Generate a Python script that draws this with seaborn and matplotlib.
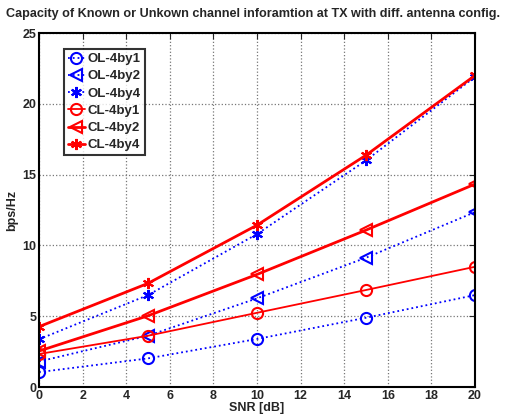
import matplotlib
matplotlib.use("Agg")
import matplotlib.pyplot as plt
import seaborn as sns
import pandas as pd

snr = [0, 5, 10, 15, 20]
ol_4by1 = [1.05, 2.02, 3.39, 4.89, 6.49]
ol_4by2 = [1.8, 3.62, 6.26, 9.13, 12.35]
ol_4by4 = [3.37, 6.49, 10.8, 16.0, 21.9]
cl_4by1 = [2.33, 3.62, 5.24, 6.85, 8.49]
cl_4by2 = [2.54, 5.03, 7.95, 11.08, 14.33]
cl_4by4 = [4.26, 7.32, 11.43, 16.37, 22.0]

names = ["OL-4by1", "OL-4by2", "OL-4by4", "CL-4by1", "CL-4by2", "CL-4by4"]
series = [ol_4by1, ol_4by2, ol_4by4, cl_4by1, cl_4by2, cl_4by4]

sns.set_style("white")
plt.rcParams['font.family'] = ['Liberation Sans', 'DejaVu Sans']
plt.rcParams['font.weight'] = 'bold'

fig = plt.figure(figsize=(5.05, 4.17), dpi=100)
ax = fig.add_axes([39/505, 1 - 387/417, 436/505, 354/417])

asterisk = (6, 2, 0)
styles = {
    "OL-4by1": dict(color="blue", linestyle=":", marker="o", lw=1.3),
    "OL-4by2": dict(color="blue", linestyle=":", marker="<", lw=1.3),
    "OL-4by4": dict(color="blue", linestyle=":", marker=asterisk, lw=1.3),
    "CL-4by1": dict(color="red", linestyle="-", marker="o", lw=1.3),
    "CL-4by2": dict(color="red", linestyle="-", marker="<", lw=2.0),
    "CL-4by4": dict(color="red", linestyle="-", marker=asterisk, lw=2.0),
}

for name, vals in zip(names, series):
    df = pd.DataFrame({"snr": snr, "cap": vals})
    st = styles[name]
    sns.lineplot(data=df, x="snr", y="cap", ax=ax, label=name,
                 color=st["color"], linestyle=st["linestyle"], linewidth=st["lw"],
                 marker=st["marker"], markersize=8, markerfacecolor="none",
                 markeredgecolor=st["color"], markeredgewidth=1.5)

ax.set_xlim(0, 20)
ax.set_ylim(0, 25)
ax.set_xticks(range(0, 21, 2))
ax.set_yticks(range(0, 26, 5))
ax.grid(True, linestyle=":", color="#777777", linewidth=0.9)
ax.tick_params(direction="in", top=True, right=True, length=4, labelsize=9, pad=2)
for lab in ax.get_xticklabels() + ax.get_yticklabels():
    lab.set_fontweight("bold")
for sp in ax.spines.values():
    sp.set_color("black")
    sp.set_linewidth(1.5)

ax.set_xlabel("SNR [dB]", fontsize=9, fontweight="bold", labelpad=0)
ax.set_ylabel("bps/Hz", fontsize=9, fontweight="bold", labelpad=3)
fig.text(0.5, 1 - 14/417, "Capacity of Known or Unkown channel inforamtion at TX with diff. antenna config.",
         fontsize=9.1, fontweight="bold", ha="center", va="center")

leg = ax.legend(loc="upper left", bbox_to_anchor=(0.057, 0.955), fontsize=9.5,
                frameon=True, fancybox=False, handlelength=1.3, handletextpad=0.2,
                labelspacing=0.38, borderpad=0.3, borderaxespad=0)
leg.get_frame().set_edgecolor("black")
leg.get_frame().set_linewidth(1.5)
for t in leg.get_texts():
    t.set_fontweight("bold")

fig.savefig("out.png", dpi=100)
